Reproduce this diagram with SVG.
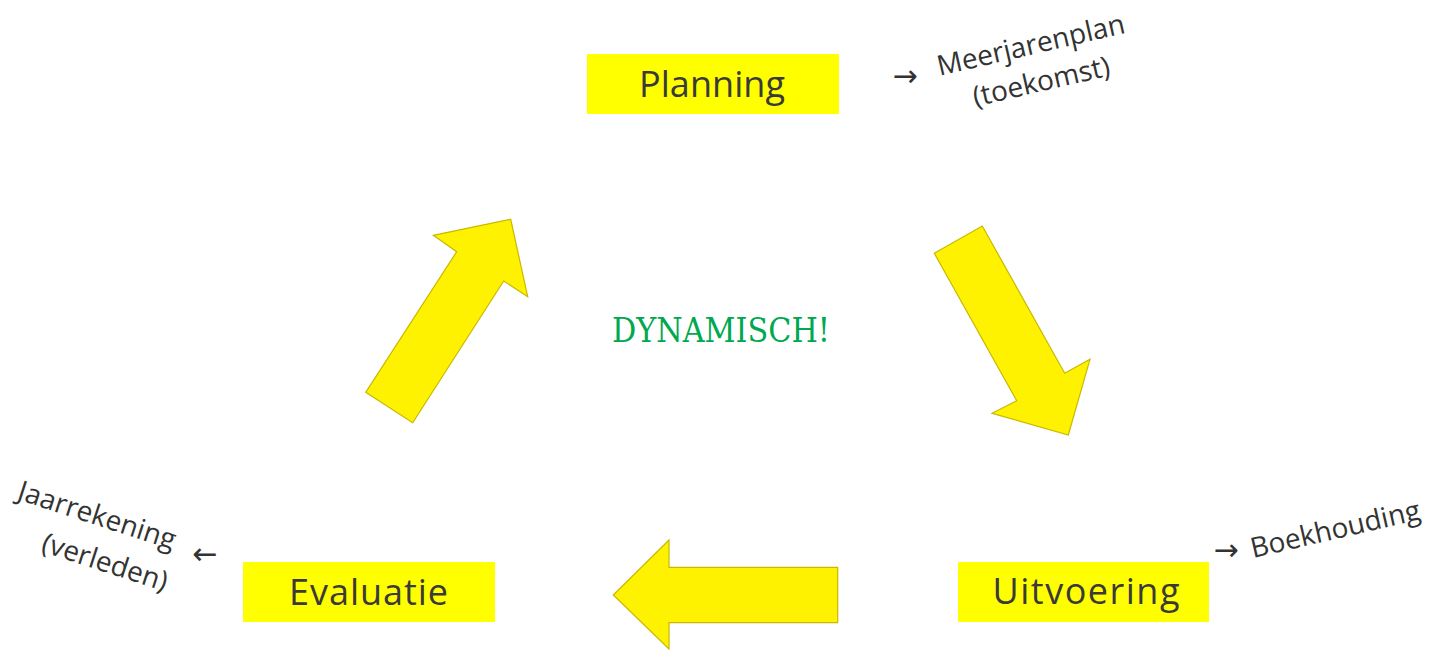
<svg xmlns="http://www.w3.org/2000/svg" width="1438" height="650" viewBox="0 0 1438 650">
<style>
.box{fill:#FFFF00;}
.lbl{font-family:"Open Sans","DejaVu Sans",sans-serif;font-size:36px;fill:#3a3a3a;text-anchor:middle;}
.note{font-family:"Open Sans","DejaVu Sans",sans-serif;font-size:28px;fill:#333333;}
.sym{font-family:"DejaVu Sans",sans-serif;font-size:30px;fill:#333333;text-anchor:middle;}
.arrow{fill:#FFF200;stroke:#C9B800;stroke-width:1.2;stroke-linejoin:miter;}
.dyn{font-family:"DejaVu Serif","Liberation Serif",serif;font-size:33px;fill:#00A84F;}
</style>
<rect width="1438" height="650" fill="#ffffff"/>
<g id="connectors">
<polygon class="arrow" points="365.7,392.3 412.7,422.7 503.7,281 527.7,296.7 510.7,219.3 433.3,235.3 456.7,251.7"/>
<polygon class="arrow" points="934.3,253.3 982.3,226 1064.7,373.3 1090,359.3 1068.3,435 992,413.3 1016.7,400.7"/>
<polygon class="arrow" points="613.3,595 669,540 669,567.3 837.7,567.3 837.7,622.7 669,622.7 669,649"/>
</g>
<g id="planning">
<rect class="box" x="587" y="54" width="252" height="60"/>
<text class="lbl" x="712" y="97" textLength="146" lengthAdjust="spacing">Planning</text>
</g>
<g id="uitvoering">
<rect class="box" x="958" y="562" width="251" height="60"/>
<text class="lbl" x="1086" y="604" textLength="187" lengthAdjust="spacing">Uitvoering</text>
</g>
<g id="evaluatie">
<rect class="box" x="243" y="562" width="252" height="60"/>
<text class="lbl" x="368.5" y="605" textLength="159" lengthAdjust="spacing">Evaluatie</text>
</g>
<g id="center">
<text class="dyn" x="612" y="342" textLength="218" lengthAdjust="spacingAndGlyphs">DYNAMISCH!</text>
</g>
<g id="note-meerjarenplan">
<text class="sym" x="905" y="86">→</text>
<g transform="rotate(-13 1036 72)">
<text class="note" x="1037" y="54" text-anchor="middle">Meerjarenplan</text>
<text class="note" x="1039" y="92" text-anchor="middle">(toekomst)</text>
</g>
</g>
<g id="note-boekhouding">
<text class="sym" x="1226" y="560">→</text>
<text class="note" transform="rotate(-13 1253 558)" x="1253" y="558">Boekhouding</text>
</g>
<g id="note-jaarrekening">
<text class="sym" x="205" y="564">←</text>
<text class="note" transform="rotate(18 16 499)" x="16" y="499">Jaarrekening</text>
<text class="note" transform="rotate(18 40 551)" x="40" y="551">(verleden)</text>
</g>
</svg>
